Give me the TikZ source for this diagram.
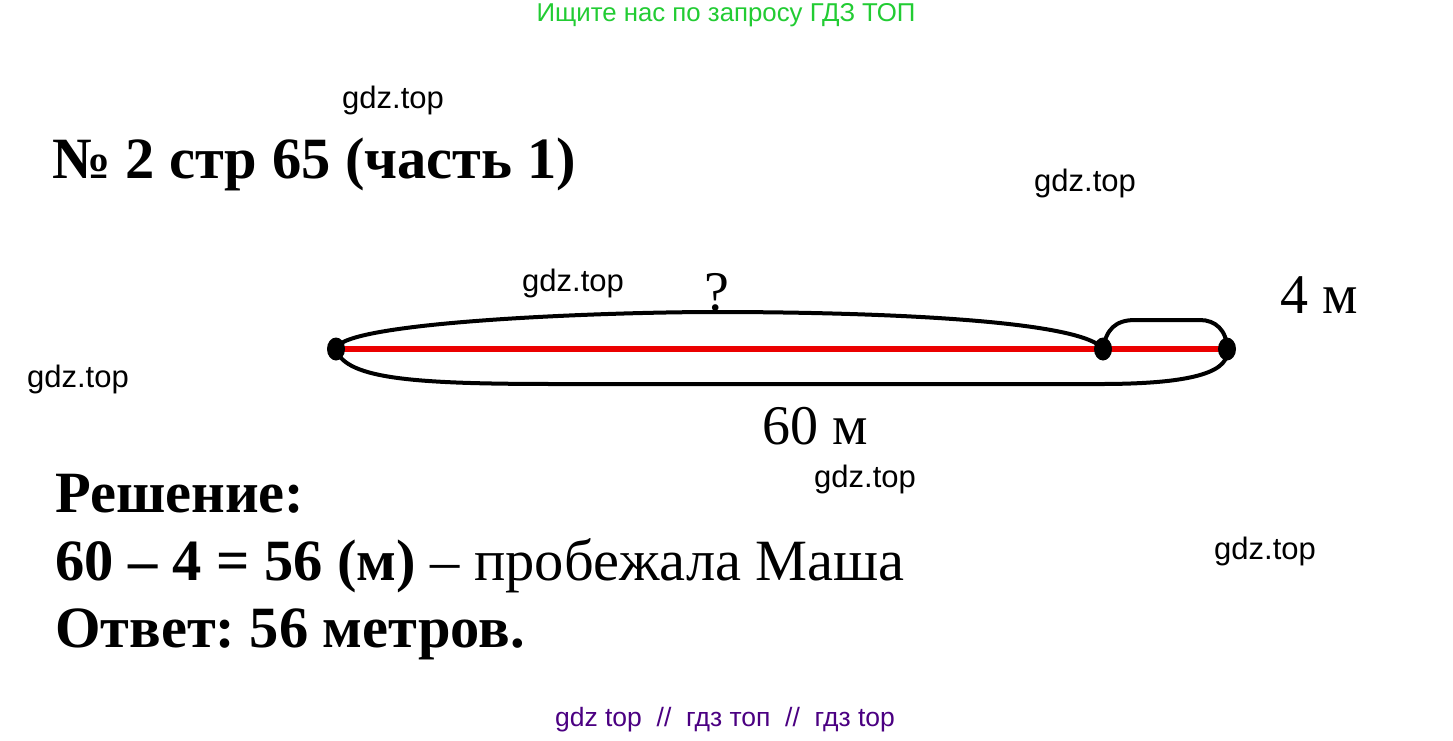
\documentclass[tikz,border=0pt]{standalone}
\usepackage{fontspec}
\usetikzlibrary{shapes.geometric}
\setmainfont{Liberation Serif}
\newfontfamily\wmfont{Liberation Sans}
\definecolor{topgreen}{RGB}{34,204,51}
\definecolor{botpurple}{RGB}{75,0,130}
\definecolor{segred}{RGB}{235,0,0}
\frenchspacing
\begin{document}
\begin{tikzpicture}[x=1pt,y=-1pt,
  wm/.style={font=\wmfont\fontsize{31}{35}\selectfont,inner sep=0pt},
  big/.style={font=\fontsize{58.5}{62}\selectfont,inner sep=0pt,anchor=base west},
  lbl/.style={font=\fontsize{56}{60}\selectfont,inner sep=0pt,anchor=base west},
  dotm/.style={ellipse,fill=black,minimum width=18pt,minimum height=23pt,inner sep=0pt},
  arc/.style={line width=4pt,line cap=round}
]
\useasboundingbox (0,0) rectangle (1453,740);
\fill[white] (0,0) rectangle (1453,740);
\node[font=\wmfont\fontsize{25.8}{30}\selectfont,text=topgreen,inner sep=0pt] (top) at (726,15) {Ищите нас по запросу ГДЗ ТОП};
\node[font=\wmfont\fontsize{26.5}{30}\selectfont,text=botpurple,inner sep=0pt] (bot) at (725,720) {gdz top\ \ //\ \ гдз топ\ \ //\ \ гдз top};
\node[wm] (w1) at (393,100) {gdz.top};
\node[wm] (w2) at (1085,183) {gdz.top};
\node[wm] (w3) at (573,283) {gdz.top};
\node[wm] (w4) at (78,379) {gdz.top};
\node[wm] (w5) at (865,479) {gdz.top};
\node[wm] (w6) at (1265,551) {gdz.top};
\node[big] (title) at (52,178) {\bfseries № 2 стр 65 (часть 1)};
\node[big] (sol) at (55,512) {\bfseries Решение:};
\node[big] (eq) at (55,580) {\textbf{60 – 4 = 56 (м)} – пробежала Маша};
\node[big] (ans) at (55,647) {\bfseries Ответ: 56 метров.};
\node[lbl] (q) at (704,310) {?};
\node[lbl] (l4) at (1280,313) {4 м};
\node[lbl] (l60) at (762,444) {60 м};
\coordinate (A) at (336,349);
\coordinate (B) at (1103,349);
\coordinate (C) at (1227,349);
\draw[segred,line width=6pt] (A) -- (C);
\draw[arc] (A) .. controls (340,322) and (600,312) .. (716,312)
  .. controls (850,312) and (1080,318) .. (B);
\draw[arc] (A) .. controls (345,380) and (420,384) .. (560,384)
  -- (1100,384) .. controls (1200,384) and (1230,370) .. (C);
\draw[arc] (B) .. controls (1106,330) and (1115,320) .. (1135,320)
  -- (1200,320) .. controls (1215,320) and (1227,330) .. (C);
\node[dotm] (dA) at (A) {};
\node[dotm] (dB) at (B) {};
\node[dotm] (dC) at (C) {};
\end{tikzpicture}
\end{document}
